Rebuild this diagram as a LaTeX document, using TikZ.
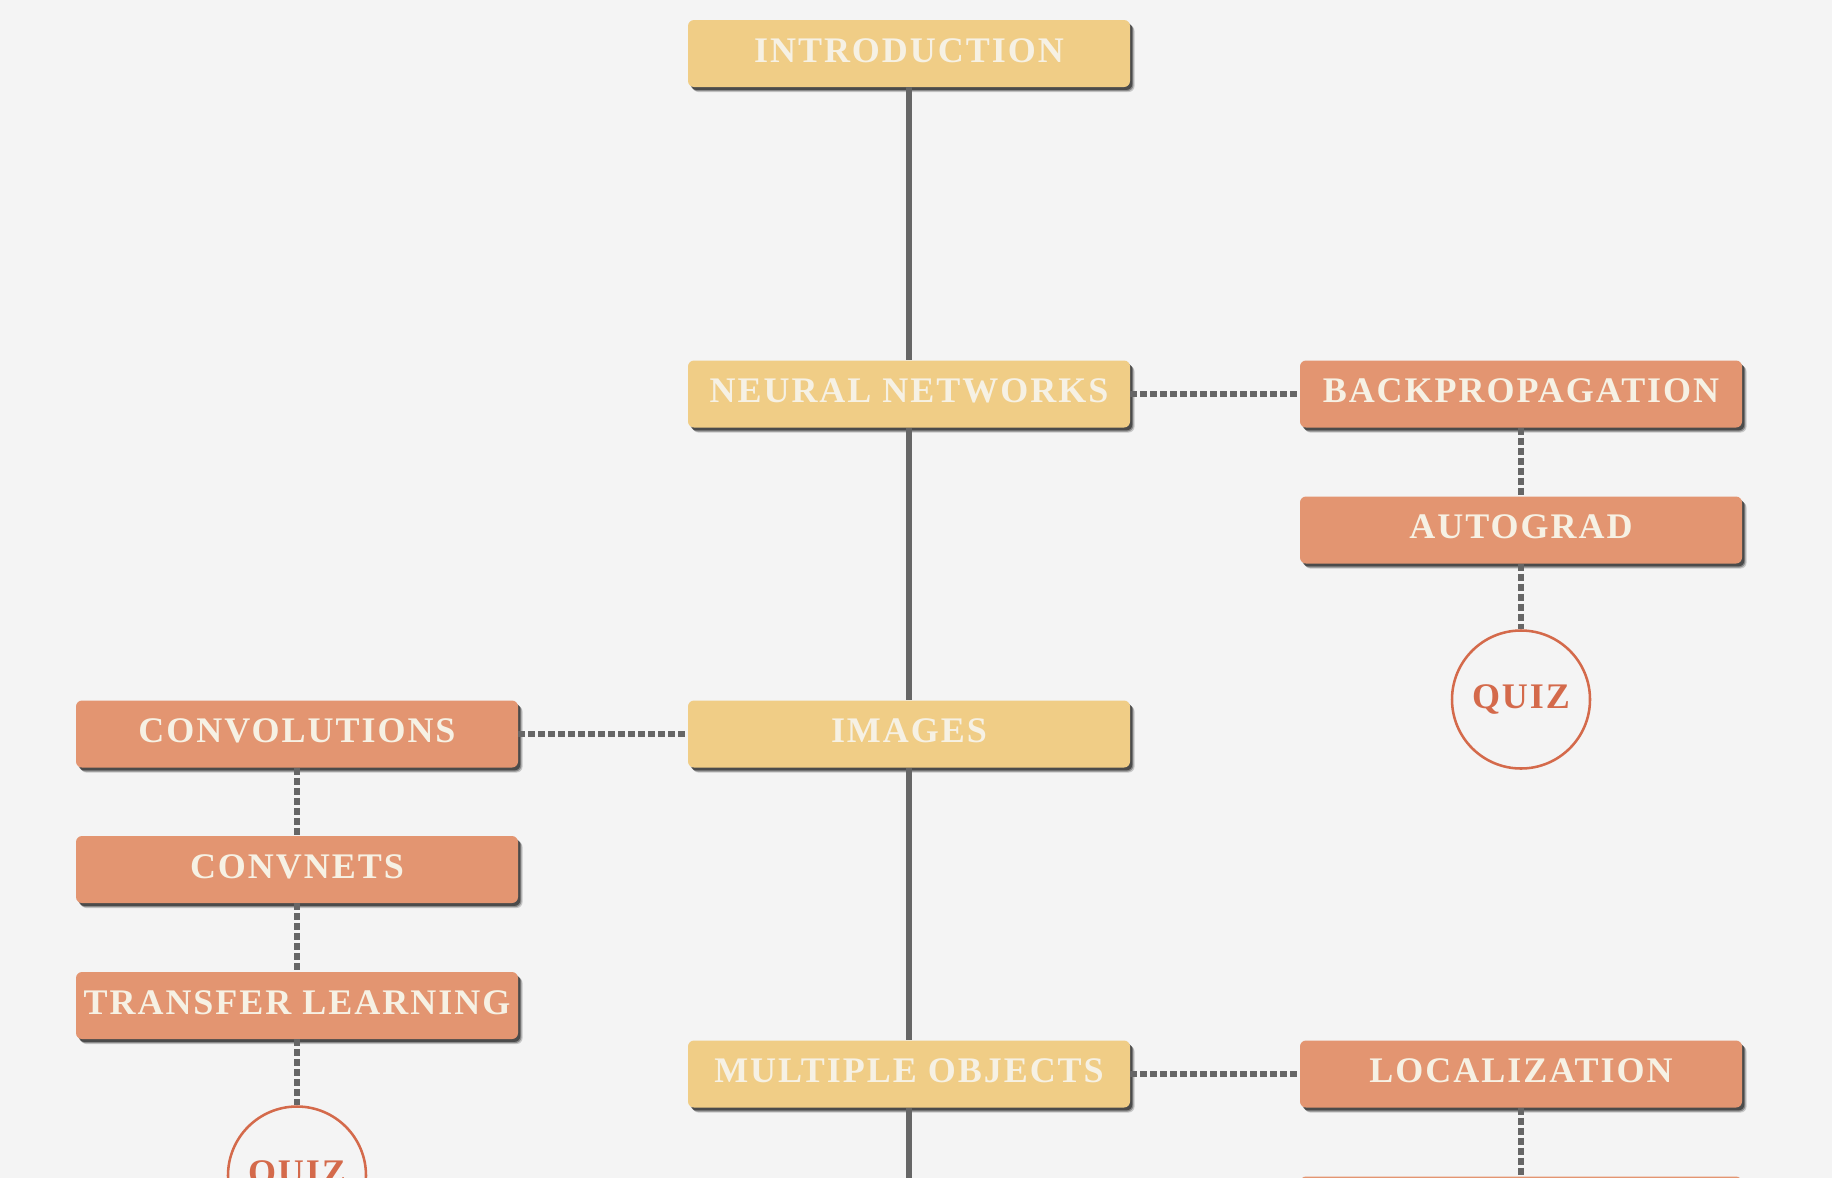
\documentclass[tikz,border=0pt]{standalone}
\usepackage{fontspec}
\setmainfont{Liberation Serif}
\usepackage{xcolor}
\usetikzlibrary{shapes,arrows,positioning,calc,shadows}
\newfontfamily\boxfont[LetterSpace=5.5]{Liberation Serif}
\definecolor{pagegray}{RGB}{244,244,244}
\definecolor{mainyellow}{RGB}{240,205,134}
\definecolor{sideorange}{RGB}{227,149,113}
\definecolor{quizred}{RGB}{212,106,75}
\definecolor{labelcream}{RGB}{246,241,228}
\definecolor{linegray}{RGB}{102,102,102}

\begin{document}
\begin{tikzpicture}[x=0.75pt, y=-0.75pt,
    topic/.style={rectangle, rounded corners=4.5pt, minimum width=331.5pt, minimum height=50.25pt, inner sep=0pt, text height=18pt, text depth=5.25pt, font=\boxfont\bfseries\fontsize{27}{30}\selectfont, text=labelcream,
        drop shadow={shadow xshift=3.4pt, shadow yshift=-3.8pt, opacity=0.18, fill=black},
        drop shadow={shadow xshift=2.6pt, shadow yshift=-3pt, opacity=0.3, fill=black},
        drop shadow={shadow xshift=1.8pt, shadow yshift=-2.2pt, opacity=0.45, fill=black}},
    maintopic/.style={topic, fill=mainyellow},
    subtopic/.style={topic, fill=sideorange},
    quiz/.style={circle, draw=quizred, line width=1.9pt, minimum size=103.5pt, inner sep=0pt, text height=18pt, text depth=5.25pt, font=\boxfont\bfseries\fontsize{27}{30}\selectfont, text=quizred},
    spine/.style={draw=linegray, line width=4.2pt},
    branch/.style={draw=linegray, line width=5pt, dash pattern=on 5.1pt off 2.4pt}
]
\useasboundingbox (0,0) rectangle (1832,1178);
\fill[pagegray] (0,0) rectangle (1832,1178);

% Main track
\node[maintopic] (intro) at (909, 53.5) {INTRODUCTION};
\node[maintopic] (neural) at (909, 394) {NEURAL NETWORKS};
\node[maintopic] (images) at (909, 734) {IMAGES};
\node[maintopic] (multi) at (909, 1074) {MULTIPLE OBJECTS};
\coordinate (spineend) at (909, 1200);

% Side tracks
\node[subtopic] (backprop) at (1521, 394) {BACKPROPAGATION};
\node[subtopic] (autograd) at (1521, 530) {AUTOGRAD};
\node[quiz] (quizone) at (1521, 699.5) {QUIZ};

\node[subtopic] (conv) at (297, 734) {CONVOLUTIONS};
\node[subtopic] (convnets) at (297, 869.5) {CONVNETS};
\node[subtopic] (transfer) at (297, 1005.5) {TRANSFER LEARNING};
\node[quiz] (quiztwo) at (297, 1175.5) {QUIZ};

\node[subtopic] (local) at (1521, 1074) {LOCALIZATION};
\node[subtopic] (lowerbox) at (1521, 1210) {};

% Connections
\draw[spine] (intro) -- (neural);
\draw[spine] (neural) -- (images);
\draw[spine] (images) -- (multi);
\draw[spine] (multi) -- (spineend);

\draw[branch] (neural.east) -- (backprop.west);
\draw[branch] (backprop) -- (autograd);
\draw[branch] (autograd) -- (quizone);

\draw[branch] (conv.east) -- (images.west);
\draw[branch] (conv) -- (convnets);
\draw[branch] (convnets) -- (transfer);
\draw[branch] (transfer) -- (quiztwo);

\draw[branch] (multi.east) -- (local.west);
\draw[branch] (local) -- (lowerbox);

\end{tikzpicture}
\end{document}
